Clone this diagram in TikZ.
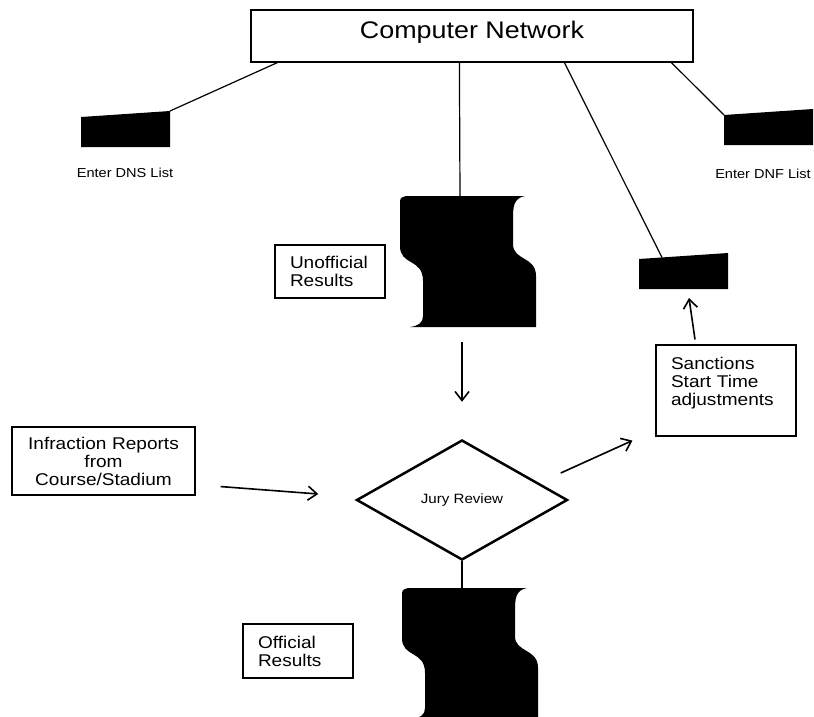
\documentclass[tikz,border=0pt]{standalone}
\usepackage{fontspec}
\setmainfont{Liberation Sans}[FakeStretch=1.12]
\usetikzlibrary{calc,arrows.meta,shapes.geometric}

\tikzset{
  box/.style={draw,line width=1.1pt,inner xsep=15pt,inner ysep=0pt,font=\fontsize{17}{18}\selectfont},
  lbl/.style={inner sep=0pt,font=\fontsize{13}{15}\selectfont},
  link/.style={line width=1.2pt},
  arr/.style={line width=1.6pt,-{Straight Barb[length=9pt,width=14pt]}},
  kbd/.pic={
    \fill (0,0) -- (0,-30) -- (89,-36) -- (89,0) -- cycle;
    \coordinate (-tl) at (0,-30);
    \coordinate (-tr) at (89,-36);
    \coordinate (-top) at (23,-31.5);
    \coordinate (-bot) at (50,0);
  },
  tape/.pic={
    \fill (6,0) -- (125,0) .. controls (114,2) and (113,10) .. (113,22) -- (113,48)
      .. controls (113,65) and (136,60) .. (136,80) -- (136,131) -- (10,131)
      .. controls (18,130) and (23,127) .. (23,120) -- (23,85)
      .. controls (23,62) and (0,70) .. (0,50) -- (0,8) .. controls (0,2) .. (6,0) -- cycle;
    \coordinate (-top) at (60,0);
    \coordinate (-bot) at (62,131);
  }
}

\begin{document}
\begin{tikzpicture}[x=1pt,y=-1pt]
\useasboundingbox (0,0) rectangle (814,717);
\node[box,line width=1.2pt,inner xsep=0pt,minimum width=442pt,minimum height=52pt,text height=17pt,text depth=12pt,font=\fontsize{24}{28}\selectfont](net) at (472,36) {Computer Network};
\pic (dns) at (81,147) {kbd};
\pic (dnf) at (724,145) {kbd};
\pic (sin) at (639,289) {kbd};
\node[lbl](dnslbl) at (125,173) {Enter DNS List};
\node[lbl](dnflbl) at (763,174) {Enter DNF List};
\pic (unoff) at (400,196) {tape};
\pic (off) at (402,588) {tape};
\node[box,minimum width=110pt,minimum height=53pt,text width=80pt,align=left](unofflbl) at (330,271.5) {Unofficial\\Results};
\node[box,minimum width=110pt,minimum height=54pt,text width=80pt,align=left](offlbl) at (298,651) {Official\\Results};
\node[box,minimum width=140pt,minimum height=91pt,text width=110pt,align=left](sanc) at (726,390.5) {Sanctions\\Start Time\\adjustments\\~};
\node[box,minimum width=183pt,minimum height=68pt,text width=153pt,align=center](infr) at (103.5,461) {Infraction Reports\\from\\Course/Stadium};
\node[draw,diamond,line width=2.5pt,minimum width=211pt,minimum height=120pt,inner sep=0pt,font=\fontsize{13.5}{16}\selectfont](jury) at (462,500) {Jury Review};
% network links
\draw[link] ($(net.south west)+(27,0)$) -- (dns-tr);
\draw[link] ($(net.south west)+(209,0)$) -- (unoff-top);
\draw[link] ($(net.south west)+(314,0)$) -- (sin-top);
\draw[link] ($(net.south west)+(421,0)$) -- (dnf-tl);
\draw[link] (jury.south) -- (off-top);
% flow arrows
\draw[arr] ($(unoff-bot)+(0,15)$) -- ($(jury.north)+(0,-37)$);
\draw[arr] ($(infr.south east)+(25,-9)$) -- ($(jury.west)+(-37,-6)$);
\draw[arr] ($(jury.east)+(-8,-27)$) -- ($(sanc.south west)+(-23,4)$);
\draw[arr] ($(sanc.north)+(-31,-5)$) -- ($(sin-bot)+(0,9)$);
\end{tikzpicture}
\end{document}
